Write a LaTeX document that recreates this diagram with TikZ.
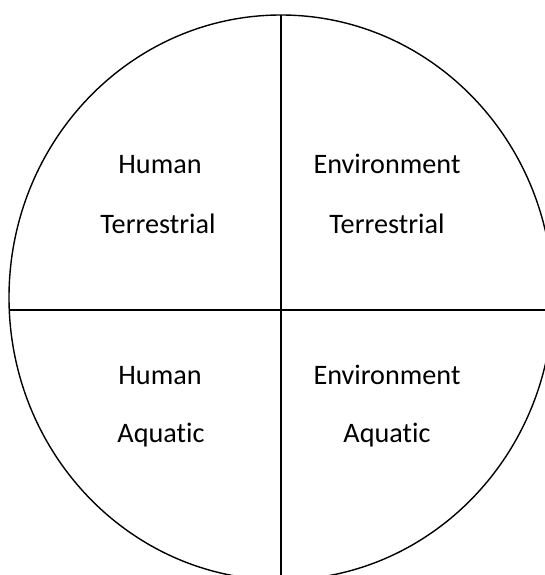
\documentclass[tikz,border=0pt]{standalone}
\usepackage{fontspec}
\setmainfont{Carlito}[Ligatures=NoCommon]
\tikzset{
	quadlabel/.style={font=\fontsize{28.2}{34}\selectfont, anchor=base},
	rim/.style={line width=1.4pt}
}
\begin{document}
\begin{tikzpicture}[x=1pt,y=-1pt]
		\clip (0,0) rectangle (545,575);
		\draw [rim] (281,297.5) ellipse [x radius=272, y radius=282.5];
		\draw [rim] (9.3,310) -- (545,310);
		\draw [rim] (281,15) -- (281,575);
		% upper half
		\node [quadlabel] (humanT) at (160,173) {Human};
		\node [quadlabel] (terrH) at (158,233) {Terrestrial};
		\node [quadlabel] (envT) at (387,173) {Environment};
		\node [quadlabel] (terrE) at (387,233) {Terrestrial};
		% lower half
		\node [quadlabel] (humanA) at (160,384) {Human};
		\node [quadlabel] (aquaH) at (161,442) {Aquatic};
		\node [quadlabel] (envA) at (387,384) {Environment};
		\node [quadlabel] (aquaE) at (387,442) {Aquatic};
	\end{tikzpicture}
\end{document}
